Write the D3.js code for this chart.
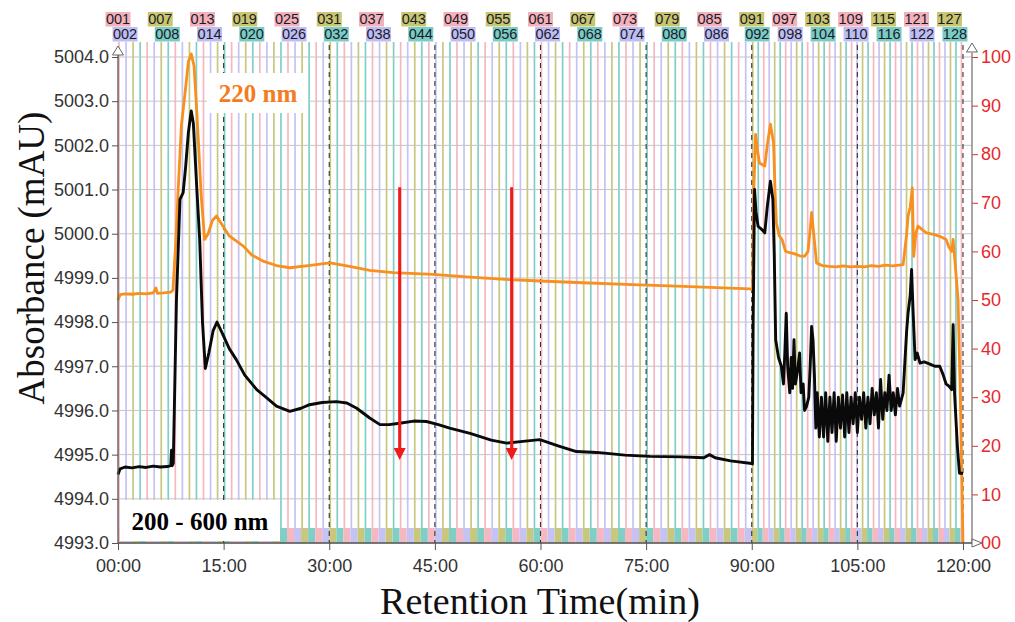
<!DOCTYPE html>
<html>
<head>
<meta charset="utf-8">
<script src="https://cdn.jsdelivr.net/npm/d3@7"></script>
<style>
  body { margin: 0; background: #fff; }
  svg { display: block; }
</style>
</head>
<body>
<svg id="chart" width="1015" height="622"></svg>
<script>
// 200 - 600 nm trace (minutes, mAU)
var black_t = [0, 0.3, 1, 2, 3, 4, 5, 6, 7, 7.5, 7.6, 7.7, 7.85, 8.3, 8.8, 9.25, 9.6, 10, 10.4, 10.7, 11.2, 11.6, 12, 12.4, 12.9, 13.5, 14.06, 14.8, 15.8, 16.8, 18, 19.7, 21, 22.5, 24.4, 26, 27.2, 29, 31, 32.5, 33.9, 35.75, 37.2, 38.5, 40, 42, 43.8, 45.5, 47.1, 50, 53, 55.2, 57.5, 59.9, 62.5, 65.1, 68, 72, 75.5, 80, 83.2, 84, 84.8, 87, 90, 90.1, 90.2, 90.4, 90.6, 90.9, 91.4, 91.85, 92.2, 92.65, 93, 93.2, 93.4, 93.8, 94.2, 94.5, 94.7, 94.9, 95.1, 95.4, 95.6, 95.8, 96, 96.2, 96.5, 96.8, 97, 97.3, 97.5, 97.8, 98.1, 98.3, 98.5, 98.7, 98.9, 99.1, 99.3, 99.6, 99.9, 100.2, 100.5, 100.8, 101.1, 101.4, 101.7, 102, 102.3, 102.6, 102.9, 103.2, 103.5, 103.8, 104.1, 104.4, 104.7, 105, 105.3, 105.6, 105.9, 106.2, 106.5, 106.8, 107.1, 107.4, 107.7, 108, 108.3, 108.6, 108.9, 109.2, 109.5, 109.8, 110.1, 110.4, 110.7, 111, 111.5, 112, 112.2, 112.5, 112.7, 112.9, 113.2, 113.5, 113.9, 114.5, 115.3, 116, 116.7, 117.2, 117.6, 118, 118.4, 118.6, 118.8, 119.2, 119.5, 120];
var black_v = [4994.55, 4994.68, 4994.72, 4994.70, 4994.73, 4994.71, 4994.74, 4994.72, 4994.73, 4994.75, 4995.1, 4994.75, 4994.8, 4998.5, 5000.78, 5000.93, 5001.5, 5002.3, 5002.78, 5002.5, 5001.0, 4999.87, 4998.0, 4996.95, 4997.3, 4997.8, 4998.0, 4997.75, 4997.4, 4997.15, 4996.8, 4996.47, 4996.3, 4996.1, 4995.98, 4996.05, 4996.13, 4996.18, 4996.2, 4996.17, 4996.05, 4995.83, 4995.68, 4995.68, 4995.71, 4995.76, 4995.75, 4995.68, 4995.6, 4995.48, 4995.33, 4995.26, 4995.3, 4995.34, 4995.2, 4995.07, 4995.05, 4994.99, 4994.96, 4994.95, 4994.93, 4995.0, 4994.93, 4994.86, 4994.8, 4994.79, 4998.0, 5001.0, 5000.5, 5000.17, 5000.1, 5000.02, 5000.6, 5001.19, 5000.78, 4999.5, 4997.6, 4997.2, 4997.0, 4996.6, 4997.3, 4998.2, 4997.0, 4996.4, 4997.2, 4996.5, 4997.6, 4996.6, 4996.9, 4997.3, 4996.4, 4996.6, 4996.0, 4996.1, 4996.3, 4997.0, 4997.9, 4997.6, 4996.8, 4995.6, 4996.4, 4995.4, 4996.3, 4995.4, 4996.4, 4995.3, 4996.3, 4995.5, 4996.4, 4995.3, 4996.3, 4995.6, 4996.35, 4995.4, 4996.4, 4995.5, 4996.3, 4995.7, 4996.4, 4995.5, 4996.3, 4995.8, 4996.4, 4995.6, 4996.3, 4995.7, 4996.5, 4995.9, 4996.4, 4995.6, 4996.7, 4995.8, 4996.4, 4996.0, 4996.8, 4996.0, 4996.4, 4995.9, 4996.5, 4996.1, 4996.4, 4997.8, 4998.2, 4998.6, 4999.19, 4998.3, 4997.15, 4997.3, 4997.07, 4997.1, 4997.05, 4997.0, 4997.0, 4996.8, 4996.6, 4996.55, 4996.47, 4997.94, 4996.4, 4995.2, 4994.58, 4994.58];

// 220 nm trace (minutes, mAU)
var orange_t = [0, 0.3, 1, 2, 3, 4, 5, 5.4, 5.6, 6.5, 7.5, 7.8, 8.2, 8.55, 9, 9.6, 10, 10.4, 10.8, 11.1, 11.4, 11.8, 12.3, 12.8, 13.4, 14, 14.8, 15.8, 17.8, 19, 20.6, 22.5, 24.4, 27, 30.1, 32.9, 35.75, 39.1, 44.7, 50, 55.6, 60, 66, 73, 80.3, 85, 89.7, 90.1, 90.3, 90.55, 90.8, 91.1, 91.85, 92.2, 92.65, 93.1, 93.3, 93.5, 93.9, 94.3, 94.8, 95.4, 96, 96.8, 97.5, 98, 98.3, 98.5, 98.8, 99.2, 100, 101, 102, 103, 104, 105, 106, 107, 108, 109, 110, 111.5, 112, 112.2, 112.5, 112.8, 113, 113.3, 113.6, 114.8, 116, 117, 117.6, 118, 118.4, 118.6, 118.9, 119.3, 119.6, 120];
var orange_v = [4998.5, 4998.62, 4998.64, 4998.63, 4998.65, 4998.64, 4998.66, 4998.77, 4998.65, 4998.66, 4998.68, 4998.72, 4999.8, 5001.0, 5002.44, 5003.3, 5003.9, 5004.07, 5003.8, 5003.0, 5002.14, 5000.9, 4999.87, 5000.0, 5000.3, 5000.4, 5000.2, 4999.95, 4999.72, 4999.52, 4999.38, 4999.28, 4999.23, 4999.28, 4999.34, 4999.26, 4999.17, 4999.12, 4999.08, 4999.02, 4998.96, 4998.93, 4998.89, 4998.85, 4998.81, 4998.78, 4998.75, 4998.74, 5001.0, 5002.25, 5001.9, 5001.6, 5001.53, 5002.0, 5002.48, 5002.06, 5001.0, 5000.25, 4999.95, 4999.87, 4999.6, 4999.57, 4999.55, 4999.5, 4999.49, 4999.6, 5000.1, 5000.48, 5000.0, 4999.34, 4999.28, 4999.26, 4999.25, 4999.27, 4999.25, 4999.26, 4999.25, 4999.28, 4999.26, 4999.29, 4999.27, 4999.3, 5000.0, 5000.4, 5000.6, 5001.04, 4999.49, 5000.0, 5000.17, 5000.02, 4999.98, 4999.92, 4999.87, 4999.7, 4999.6, 4999.87, 4999.3, 4998.51, 4996.5, 4993.0];

// red arrows (minutes, from / to mAU)
var arrow_t = [40, 55.9];
var arrow_from = 5001.05;
var arrow_to = 4994.88;

// fraction collector: two phases
var fraction_phases = [
  { first: 1, last: 90, start: 0, width: 1 },
  { first: 91, last: 129, start: 90, width: 0.78 }
];
var fraction_colors = ['#f5b8c1', '#c4c3f4', '#c9c77d', '#80cfc7'];
var label_colors = ['#f4b1b9', '#bebdf2', '#c9c670', '#79cbc3'];

var left_ticks = d3.range(4993, 5004.5, 1);
var right_ticks = d3.range(0, 101, 10);
var time_ticks = [0, 15, 30, 45, 60, 75, 90, 105, 120];

//=======================
// scales
//=======================
var svg = d3.select('#chart');
var x = d3.scaleLinear().domain([0, 121.28]).range([118, 972]);
var y = d3.scaleLinear().domain([4993, 5004]).range([543, 57]);
var y2 = d3.scaleLinear().domain([0, 100]).range([543, 57]);

var fractions = [];
fraction_phases.forEach(function (p) {
  for (var n = p.first; n <= p.last; n++) {
    var s = p.start + (n - p.first) * p.width;
    fractions.push({ n: n, start: s, end: Math.min(s + p.width, 120) });
  }
});
function fcol(d) { return fraction_colors[(d.n - 1) % 4]; }

// fraction lines
svg.append('g').selectAll('line')
  .data(fractions)
  .enter().append('line')
  .attr('x1', function (d) { return x(d.start) + 1; })
  .attr('x2', function (d) { return x(d.start) + 1; })
  .attr('y1', 42)
  .attr('y2', 528)
  .style('stroke', fcol)
  .style('stroke-width', 1.7);

// bottom band
svg.append('g').selectAll('rect')
  .data(fractions)
  .enter().append('rect')
  .attr('x', function (d) { return x(d.start); })
  .attr('y', 528)
  .attr('width', function (d) { return x(d.end) - x(d.start); })
  .attr('height', 15)
  .style('fill', fcol);

// horizontal grid
svg.append('g').selectAll('line')
  .data(left_ticks)
  .enter().append('line')
  .attr('x1', x(0)).attr('x2', x(121.28))
  .attr('y1', function (d) { return y(d); })
  .attr('y2', function (d) { return y(d); })
  .style('stroke', '#c4c4c4')
  .style('stroke-width', 1);

// dashed time lines
svg.append('g').selectAll('line')
  .data(time_ticks.slice(1))
  .enter().append('line')
  .attr('x1', function (d) { return x(d); })
  .attr('x2', function (d) { return x(d); })
  .attr('y1', 45).attr('y2', 543)
  .style('stroke', '#333')
  .style('stroke-width', 1.1)
  .style('stroke-dasharray', '5,4');

// traces
var line = d3.line()
  .x(function (d) { return x(d[0]); })
  .y(function (d) { return y(d[1]); });

svg.append('path')
  .datum(d3.zip(orange_t, orange_v))
  .attr('d', line)
  .style('fill', 'none')
  .style('stroke', '#f7901e')
  .style('stroke-width', 2.8)
  .style('stroke-linejoin', 'round');

svg.append('path')
  .datum(d3.zip(black_t, black_v))
  .attr('d', line)
  .style('fill', 'none')
  .style('stroke', '#0a0a0a')
  .style('stroke-width', 2.9)
  .style('stroke-linejoin', 'round');

// red arrows
arrow_t.forEach(function (t) {
  var ax = x(t);
  svg.append('line')
    .attr('x1', ax).attr('x2', ax)
    .attr('y1', y(arrow_from)).attr('y2', y(arrow_to) - 10)
    .style('stroke', '#f01a1a')
    .style('stroke-width', 3);
  svg.append('path')
    .attr('d', 'M' + (ax - 6) + ',' + (y(arrow_to) - 12) + 'L' + (ax + 6) + ',' + (y(arrow_to) - 12) + 'L' + ax + ',' + y(arrow_to) + 'Z')
    .style('fill', '#f01a1a');
});

// text boxes
svg.append('rect').attr('x', 207).attr('y', 73).attr('width', 101).attr('height', 40).style('fill', '#fff');
svg.append('text').attr('x', 258).attr('y', 102)
  .attr('text-anchor', 'middle')
  .style('font-family', 'Liberation Serif, serif')
  .style('font-weight', 'bold')
  .style('font-size', '25px')
  .style('fill', '#f47b20')
  .text('220 nm');

svg.append('rect').attr('x', 120).attr('y', 500).attr('width', 160).attr('height', 41).style('fill', '#fff');
svg.append('text').attr('x', 200).attr('y', 530)
  .attr('text-anchor', 'middle')
  .style('font-family', 'Liberation Serif, serif')
  .style('font-weight', 'bold')
  .style('font-size', '25px')
  .style('fill', '#000')
  .text('200 - 600 nm');

// fraction labels
var labelled = fractions.filter(function (d) { return (d.n - 1) % 6 === 0 || (d.n - 2) % 6 === 0; });
var lab = svg.append('g').selectAll('g')
  .data(labelled)
  .enter().append('g')
  .attr('transform', function (d) {
    var row = (d.n - 1) % 6 === 0 ? 12 : 27;
    return 'translate(' + x(d.start) + ',' + row + ')';
  });
lab.append('rect')
  .attr('x', -12.5).attr('y', 0).attr('width', 25).attr('height', 14.5)
  .style('fill', function (d) { return label_colors[(d.n - 1) % 4]; });
lab.append('text')
  .attr('x', 0).attr('y', 12)
  .attr('text-anchor', 'middle')
  .style('font-family', 'Liberation Sans, Arial, sans-serif')
  .style('font-size', '14.5px')
  .style('fill', '#1a1a2a')
  .text(function (d) { return d3.format('03d')(d.n); });

//=======================
// axes
//=======================
var leftAxis = svg.append('g')
  .attr('transform', 'translate(' + x(0) + ',0)')
  .call(d3.axisLeft(y).tickValues(left_ticks).tickFormat(d3.format('.1f')).tickSize(6).tickSizeOuter(0));
leftAxis.select('.domain').remove();
leftAxis.selectAll('line').style('stroke', '#555');
leftAxis.selectAll('text')
  .style('font-family', 'Liberation Sans, Arial, sans-serif')
  .style('font-size', '18px')
  .style('fill', '#333');

var rightAxis = svg.append('g')
  .attr('transform', 'translate(' + x(121.28) + ',0)')
  .call(d3.axisRight(y2).tickValues(right_ticks)
    .tickFormat(function (d) { return d === 0 ? '00' : d; }).tickSize(6).tickSizeOuter(0));
rightAxis.select('.domain').remove();
rightAxis.selectAll('line').style('stroke', '#e8282c');
rightAxis.selectAll('text')
  .style('font-family', 'Liberation Sans, Arial, sans-serif')
  .style('font-size', '18px')
  .style('fill', '#e8282c');

var bottomAxis = svg.append('g')
  .attr('transform', 'translate(0,543)')
  .call(d3.axisBottom(x).tickValues(time_ticks)
    .tickFormat(function (d) { return (d < 10 ? '0' + d : d) + ':00'; }).tickSize(7).tickSizeOuter(0));
bottomAxis.select('.domain').remove();
bottomAxis.selectAll('line').style('stroke', '#555');
bottomAxis.selectAll('text')
  .attr('dy', '1.05em')
  .style('font-family', 'Liberation Sans, Arial, sans-serif')
  .style('font-size', '18px')
  .style('fill', '#333');

// axis lines with hollow arrows
svg.append('line').attr('x1', x(0)).attr('x2', x(0)).attr('y1', 543).attr('y2', 55).style('stroke', '#555').style('stroke-width', 1.3);
svg.append('line').attr('x1', x(121.28)).attr('x2', x(121.28)).attr('y1', 543).attr('y2', 53).style('stroke', '#777').style('stroke-width', 1.3);
svg.append('line').attr('x1', x(0)).attr('x2', x(121.28)).attr('y1', 543).attr('y2', 543).style('stroke', '#555').style('stroke-width', 1.3);

function upArrow(cx, tip) {
  svg.append('path')
    .attr('d', 'M' + cx + ',' + tip + 'L' + (cx + 5.5) + ',' + (tip + 9) + 'L' + (cx - 5.5) + ',' + (tip + 9) + 'Z')
    .style('fill', '#fff').style('stroke', '#666').style('stroke-width', 1);
}
upArrow(x(0), 46);
upArrow(x(121.28), 43);
svg.append('path')
  .attr('d', 'M' + (x(121.28) + 10) + ',543L' + x(121.28) + ',539L' + x(121.28) + ',547Z')
  .style('fill', '#fff').style('stroke', '#666').style('stroke-width', 1);

// titles
svg.append('text')
  .attr('transform', 'translate(44,258) rotate(-90)')
  .attr('text-anchor', 'middle')
  .style('font-family', 'Liberation Serif, serif')
  .style('font-size', '37px')
  .style('fill', '#111')
  .text('Absorbance (mAU)');

svg.append('text')
  .attr('x', 540).attr('y', 614)
  .attr('text-anchor', 'middle')
  .style('font-family', 'Liberation Serif, serif')
  .style('font-size', '38px')
  .style('fill', '#111')
  .text('Retention Time(min)');
</script>
</body>
</html>
